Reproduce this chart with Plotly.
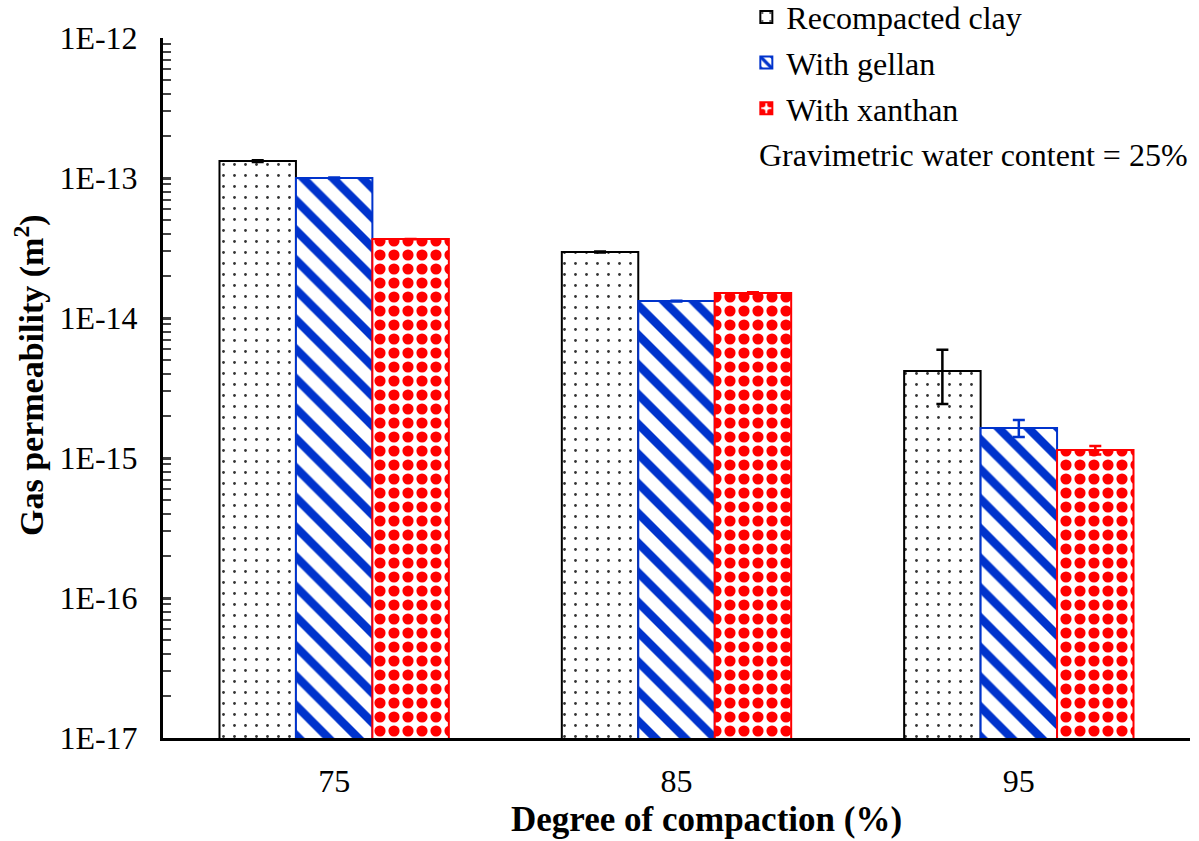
import plotly.graph_objects as go

categories = ["75", "85", "95"]
series_names = ["Recompacted clay", "With gellan", "With xanthan"]
clay = [1.32e-13, 2.96e-14, 4.18e-15]
gellan = [1.00e-13, 1.32e-14, 1.64e-15]
xanthan = [3.66e-14, 1.51e-14, 1.14e-15]
clay_err = [0.02e-13, 0.02e-14, 1.75e-15]
gellan_err = [0.01e-13, 0.01e-14, 0.23e-15]
xanthan_err = [0.01e-14, 0.02e-14, 0.08e-15]
ytick_vals = [1e-17, 1e-16, 1e-15, 1e-14, 1e-13, 1e-12]
ytick_text = ["1E-17", "1E-16", "1E-15", "1E-14", "1E-13", "1E-12"]

FONT = "Liberation Serif"

styles = [
    dict(line="#000000", fg="#333333", shape=".", size=11, solidity=0.05, err="#000000"),
    dict(line="#0033CC", fg="#0033CC", shape="\\", size=21, solidity=0.4, err="#0033CC"),
    dict(line="#FF0000", fg="#FF0000", shape=".", size=14, solidity=0.5, err="#FF0000"),
]

fig = go.Figure()
for i, (name, vals, errs) in enumerate(zip(series_names, [clay, gellan, xanthan],
                                           [clay_err, gellan_err, xanthan_err])):
    s = styles[i]
    fig.add_trace(go.Bar(
        name=name, x=categories, y=vals,
        legendgroup=f"g{i}",
        marker=dict(color="white", line=dict(color=s["line"], width=2),
                    pattern=dict(shape=s["shape"], fgcolor=s["fg"], bgcolor="white",
                                 fgopacity=1, size=s["size"], solidity=s["solidity"],
                                 fillmode="replace")),
        error_y=dict(type="data", array=errs, visible=True, color=s["err"],
                     thickness=2.5, width=6),
    ))

minor_vals = []
for e in range(-17, -12):
    for m in range(2, 10):
        minor_vals.append(m * 10.0 ** e)

fig.update_layout(
    width=1199, height=841,
    paper_bgcolor="white", plot_bgcolor="white",
    barmode="group", bargap=0.33, bargroupgap=0,
    margin=dict(l=163, r=9, t=38, b=103, autoexpand=False),
    font=dict(family=FONT, color="black", size=32),
    legend=dict(x=0.568, y=1.069, xanchor="left", yanchor="top", yref="paper",
                font=dict(family=FONT, size=32), tracegroupgap=1,
                bgcolor="rgba(0,0,0,0)", itemwidth=30),
    annotations=[
        dict(text="Gravimetric water content = 25%", xref="paper", yref="paper",
             x=1.0, y=0.833, xanchor="right", yanchor="middle", showarrow=False,
             font=dict(family=FONT, size=32)),
        dict(text="<b>Degree of compaction (%)</b>", xref="paper", yref="paper",
             x=0.529, y=-0.117, xanchor="center", yanchor="middle", showarrow=False,
             font=dict(family=FONT, size=35)),
        dict(text="<b>Gas permeability (m<sup>2</sup>)</b>", xref="paper", yref="paper",
             x=-0.1295, y=0.5186, xanchor="center", yanchor="middle", showarrow=False,
             textangle=-90, font=dict(family=FONT, size=34)),
    ],
)
fig.update_xaxes(
    type="category", showline=True, linecolor="black", linewidth=3,
    ticks="", tickfont=dict(family=FONT, size=32), showgrid=False, ticklabelstandoff=13,
)
fig.update_yaxes(
    type="log", range=[-17, -12], showline=True, linecolor="black", linewidth=3,
    tickvals=ytick_vals, ticktext=ytick_text, ticks="inside", ticklen=8, tickwidth=3,
    tickfont=dict(family=FONT, size=32), showgrid=False, ticklabelstandoff=16,
    minor=dict(tickvals=minor_vals, ticks="inside", ticklen=8, tickwidth=2, showgrid=False),
)

fig.write_html("out.html")
